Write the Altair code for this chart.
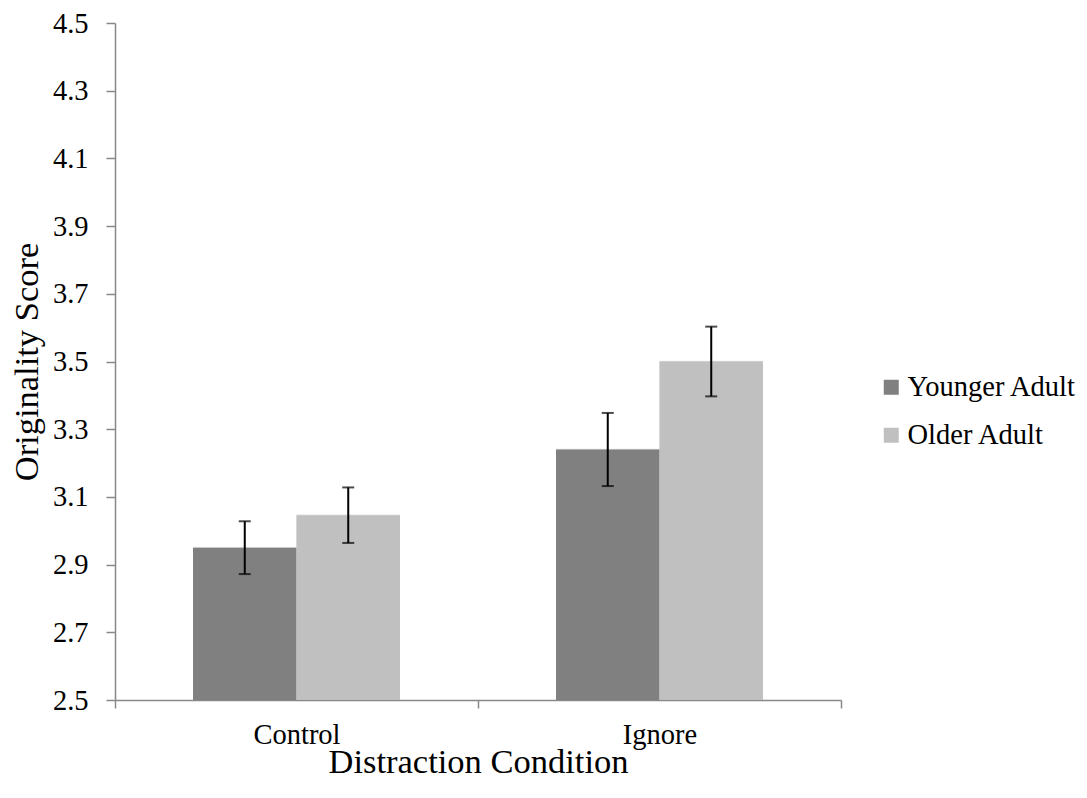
import altair as alt
import pandas as pd

conditions = ["Control", "Control", "Ignore", "Ignore"]
groups = ["Younger Adult", "Older Adult", "Younger Adult", "Older Adult"]
means = [2.95, 3.046, 3.24, 3.50]
errors = [0.078, 0.082, 0.108, 0.103]
group_order = ["Younger Adult", "Older Adult"]
condition_order = ["Control", "Ignore"]
bar_colors = ["#808080", "#c0c0c0"]
y_ticks = [2.5, 2.7, 2.9, 3.1, 3.3, 3.5, 3.7, 3.9, 4.1, 4.3, 4.5]

df = pd.DataFrame({"condition": conditions, "group": groups, "mean": means, "err": errors})
df["lo"] = df["mean"] - df["err"]
df["hi"] = df["mean"] + df["err"]

FONT = "Liberation Serif"
AXIS_GREY = "#888888"

x_enc = alt.X(
    "condition:N",
    sort=condition_order,
    title="Distraction Condition",
    scale=alt.Scale(paddingInner=0, paddingOuter=0),
    axis=alt.Axis(
        labelAngle=0,
        tickBand="extent",
        tickSize=8,
        labelPadding=35,
        labelBaseline="alphabetic",
        labelFont=FONT,
        labelFontSize=28.5,
        labelColor="#000000",
        titleFont=FONT,
        titleFontSize=34.5,
        titleFontWeight="normal",
        titleColor="#000000",
        titleBaseline="alphabetic",
        titleY=72,
        domainColor=AXIS_GREY,
        tickColor=AXIS_GREY,
        domainWidth=1.5,
        tickWidth=1.5,
    ),
)
xo_enc = alt.XOffset(
    "group:N",
    sort=group_order,
    scale=alt.Scale(domain=group_order, paddingInner=0, paddingOuter=0.754),
)
y_axis = alt.Axis(
    values=y_ticks,
    format=".1f",
    grid=False,
    tickSize=9,
    labelPadding=18,
    labelFont=FONT,
    labelFontSize=28.5,
    labelColor="#000000",
    titleFont=FONT,
    titleFontSize=34.5,
    titleFontWeight="normal",
    titleColor="#000000",
    titleBaseline="alphabetic",
    titleX=-78,
    domainColor=AXIS_GREY,
    tickColor=AXIS_GREY,
    domainWidth=1.5,
    tickWidth=1.5,
)
y_scale = alt.Scale(domain=[2.5, 4.5], zero=False, nice=False)

base = alt.Chart(df)

shadow_outer = base.mark_bar(color="#000000", opacity=0.05, xOffset=3.5, yOffset=-1).encode(
    x=x_enc,
    xOffset=xo_enc,
    y=alt.Y("mean:Q", title="Originality Score", scale=y_scale, axis=y_axis),
    y2=alt.datum(2.5),
)
shadow_inner = base.mark_bar(color="#000000", opacity=0.08, xOffset=1.5, yOffset=-0.5).encode(
    x=x_enc,
    xOffset=xo_enc,
    y=alt.Y("mean:Q", title="Originality Score", scale=y_scale),
    y2=alt.datum(2.5),
)

bars = base.mark_bar().encode(
    x=x_enc,
    xOffset=xo_enc,
    y=alt.Y("mean:Q", title="Originality Score", scale=y_scale),
    y2=alt.datum(2.5),
    color=alt.Color(
        "group:N",
        sort=group_order,
        scale=alt.Scale(domain=group_order, range=bar_colors),
        legend=alt.Legend(
            title=None,
            orient="none",
            legendX=762,
            legendY=350,
            symbolType="square",
            symbolSize=225,
            symbolStrokeWidth=0,
            symbolOffset=0,
            labelFont=FONT,
            labelFontSize=28.5,
            labelColor="#000000",
            labelOffset=2,
            labelLimit=400,
            rowPadding=19,
            padding=0,
        ),
    ),
)

rules = base.mark_rule(color="black", strokeWidth=2).encode(
    x=x_enc,
    xOffset=xo_enc,
    y=alt.Y("lo:Q", title="Originality Score", scale=y_scale),
    y2="hi:Q",
)

caps_hi = base.mark_tick(color="black", thickness=2, size=12, orient="horizontal").encode(
    x=x_enc,
    xOffset=xo_enc,
    y=alt.Y("hi:Q", title="Originality Score", scale=y_scale),
)
caps_lo = base.mark_tick(color="black", thickness=2, size=12, orient="horizontal").encode(
    x=x_enc,
    xOffset=xo_enc,
    y=alt.Y("lo:Q", title="Originality Score", scale=y_scale),
)

chart = (
    alt.layer(shadow_outer, shadow_inner, bars, rules, caps_hi, caps_lo)
    .properties(
        width=726,
        height=677,
        autosize=alt.AutoSizeParams(type="none"),
        padding={"left": 107, "top": 15, "right": 238, "bottom": 90},
        background="white",
    )
    .configure_view(stroke=None)
)

chart.save("out.html", embed_options={"renderer": "svg", "actions": False})
